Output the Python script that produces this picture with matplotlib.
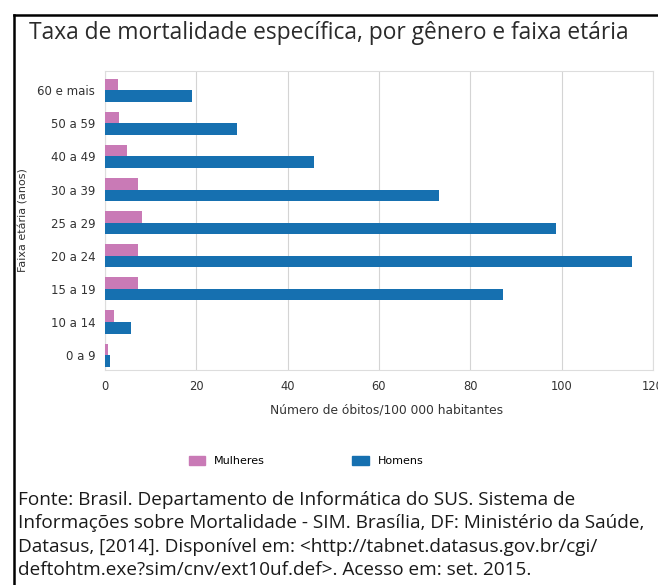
import matplotlib
matplotlib.use('Agg')
import matplotlib.pyplot as plt
import numpy as np
from matplotlib.patches import Patch

# Taxa de mortalidade por faixa etaria (de baixo para cima)
faixas = ['0 a 9', '10 a 14', '15 a 19', '20 a 24', '25 a 29',
          '30 a 39', '40 a 49', '50 a 59', '60 e mais']
mulheres = [0.7, 1.9, 7.3, 7.2, 8.0, 7.2, 4.8, 3.1, 2.9]
homens = [1.2, 5.6, 87.1, 115.3, 98.8, 73.2, 45.8, 28.8, 19.1]
x_ticks = [0, 20, 40, 60, 80, 100, 120]

cor_mulheres = '#c97ab6'
cor_homens = '#1670b0'
fam = 'DejaVu Sans'

W, H = 658, 585
fig = plt.figure(figsize=(W / 100, H / 100), dpi=100)
fig.patch.set_facecolor('white')

def fx(px):
    return px / W

def fy(py):
    return 1 - py / H

ax = fig.add_axes([fx(105), fy(370), fx(653) - fx(105), fy(71) - fy(370)])

y = np.arange(len(faixas))
h = 0.35
ax.barh(y + h / 2, mulheres, height=h, color=cor_mulheres, zorder=3)
ax.barh(y - h / 2, homens, height=h, color=cor_homens, zorder=3)

ax.set_xlim(0, 120)
ax.set_ylim(-0.45, 8.58)
ax.set_xticks(x_ticks)
ax.set_xticklabels([str(v) for v in x_ticks], fontsize=8.3, color='#333333', family=fam)
ax.set_yticks(y)
ax.set_yticklabels(faixas, fontsize=8.5, color='#333333', family=fam)
ax.tick_params(length=0, pad=7)
ax.grid(axis='x', color='#d4d4d4', linewidth=0.8, zorder=0)
for s in ax.spines.values():
    s.set_color('#dddddd')
    s.set_linewidth(0.8)

fig.text(fx(24), fy(220), 'Faixa etária (anos)', rotation=90, ha='center', va='center',
         fontsize=8, color='#333333', family=fam)
fig.text(fx(387), fy(410), 'Número de óbitos/100 000 habitantes', ha='center', va='center',
         fontsize=8.8, color='#333333', family=fam)

fig.text(fx(29), fy(33), 'Taxa de mortalidade específica, por gênero e faixa etária',
         ha='left', va='center', fontsize=16.4, color='#2b2b2b', family='Open Sans')

# legenda
fig.legend(handles=[Patch(color=cor_mulheres, label='Mulheres'),
                    Patch(color=cor_homens, label='Homens')],
           loc='center', bbox_to_anchor=(fx(306), fy(461)), ncol=2, frameon=False,
           columnspacing=7.8, handlelength=1.5, handleheight=0.9,
           prop={'family': fam, 'size': 8})

fonte = ('Fonte: Brasil. Departamento de Informática do SUS. Sistema de\n'
         'Informações sobre Mortalidade - SIM. Brasília, DF: Ministério da Saúde,\n'
         'Datasus, [2014]. Disponível em: <http://tabnet.datasus.gov.br/cgi/\n'
         'deftohtm.exe?sim/cnv/ext10uf.def>. Acesso em: set. 2015.')
fig.text(fx(18), fy(535), fonte, ha='left', va='center', fontsize=13.7,
         color='#1a1a1a', family='Open Sans', linespacing=1.36)

# moldura (esquerda e topo)
fig.add_artist(plt.Line2D([fx(14), fx(14)], [fy(15), 0], color='black', linewidth=1.8))
fig.add_artist(plt.Line2D([fx(14), 1], [fy(15), fy(15)], color='black', linewidth=1.8))

fig.savefig('out.png', dpi=100)
